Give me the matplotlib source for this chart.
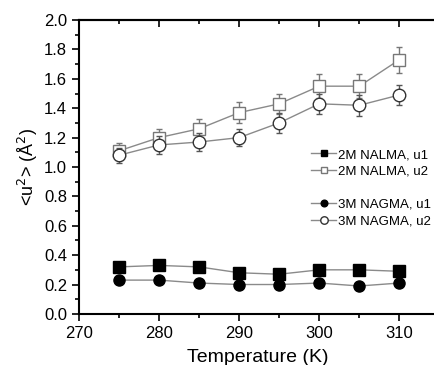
import matplotlib
matplotlib.use("Agg")
import matplotlib.pyplot as plt
from matplotlib.ticker import MultipleLocator, FormatStrFormatter

plt.rcParams["font.family"] = ["Liberation Sans", "DejaVu Sans"]

temps = [275, 280, 285, 290, 295, 300, 305, 310]

nalma_u1 = [0.32, 0.33, 0.32, 0.28, 0.27, 0.30, 0.30, 0.29]
nalma_u2 = [1.11, 1.20, 1.26, 1.37, 1.43, 1.55, 1.55, 1.73]
nalma_u2_err = [0.05, 0.06, 0.07, 0.07, 0.07, 0.08, 0.08, 0.09]

nagma_u1 = [0.23, 0.23, 0.21, 0.20, 0.20, 0.21, 0.19, 0.21]
nagma_u2 = [1.08, 1.15, 1.17, 1.20, 1.30, 1.43, 1.42, 1.49]
nagma_u2_err = [0.05, 0.06, 0.06, 0.06, 0.07, 0.07, 0.07, 0.07]

line_col = "#8a8a8a"

fig = plt.figure(figsize=(4.34, 3.65), dpi=100)
ax = fig.add_axes([0.182, 0.140, 0.823, 0.805])

h1, = ax.plot(temps, nalma_u1, "-s", color=line_col, mfc="black", mec="black",
              ms=8, lw=1, label="2M NALMA, u1")
ax.errorbar(temps, nalma_u2, yerr=nalma_u2_err, fmt="none", ecolor="#777777",
            elinewidth=1, capsize=2.5)
h2, = ax.plot(temps, nalma_u2, "-s", color=line_col, mfc="white", mec="#777777",
              ms=8, lw=1, label="2M NALMA, u2")
h3, = ax.plot(temps, nagma_u1, "-o", color=line_col, mfc="black", mec="black",
              ms=8, lw=1, label="3M NAGMA, u1")
ax.errorbar(temps, nagma_u2, yerr=nagma_u2_err, fmt="none", ecolor="#555555",
            elinewidth=1, capsize=2.5)
h4, = ax.plot(temps, nagma_u2, "-o", color=line_col, mfc="white", mec="#333333",
              ms=9, lw=1, label="3M NAGMA, u2")

ax.set_xlim(270, 314.6)
ax.set_ylim(0, 2.0)
ax.xaxis.set_major_locator(MultipleLocator(10))
ax.xaxis.set_minor_locator(MultipleLocator(5))
ax.yaxis.set_major_locator(MultipleLocator(0.2))
ax.yaxis.set_minor_locator(MultipleLocator(0.1))
ax.yaxis.set_major_formatter(FormatStrFormatter("%.1f"))

ax.tick_params(axis="both", which="both", direction="out", labelsize=12,
               top=False, right=False, width=1.2)
ax.tick_params(which="major", length=5)
ax.tick_params(which="minor", length=3)
for s in ax.spines.values():
    s.set_linewidth(1.5)

# inward ticks on top axis
sec_x = ax.secondary_xaxis("top")
sec_x.xaxis.set_major_locator(MultipleLocator(10))
sec_x.xaxis.set_minor_locator(MultipleLocator(5))
sec_x.tick_params(which="both", direction="in", labeltop=False, width=1.2)
sec_x.tick_params(which="major", length=5)
sec_x.tick_params(which="minor", length=3)
sec_x.spines["top"].set_linewidth(1.5)

ax.set_xlabel("Temperature (K)", fontsize=14, labelpad=6)
ax.set_ylabel("<u$^2$> (Å$^2$)", fontsize=13, labelpad=3)

leg_kw = dict(loc="upper left", frameon=False, fontsize=9.5, markerscale=0.6,
              handlelength=1.9, handletextpad=0.15, labelspacing=0.35,
              borderpad=0, borderaxespad=0)
leg1 = ax.legend(handles=[h1, h2], bbox_to_anchor=(0.65, 0.562), **leg_kw)
ax.add_artist(leg1)
ax.legend(handles=[h3, h4], bbox_to_anchor=(0.65, 0.393), **leg_kw)

fig.savefig("out.png", dpi=100)
